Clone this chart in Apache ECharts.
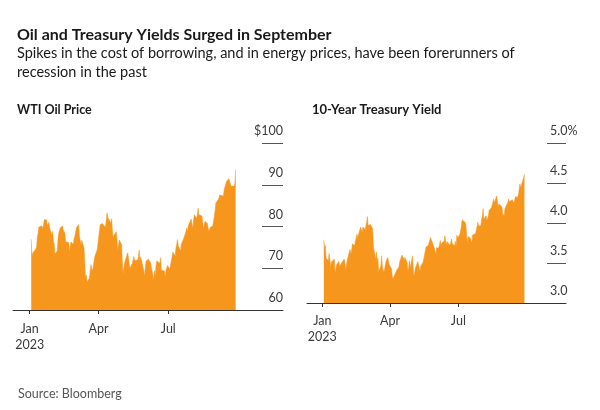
<!DOCTYPE html>
<html><head><meta charset="utf-8">
<script src="https://cdn.jsdelivr.net/npm/echarts@6/dist/echarts.min.js"></script>
<style>html,body{margin:0;padding:0;background:#fff}#c{width:600px;height:410px}</style>
</head><body><div id="c"></div>
<script>
const tradingDays = [
'2023-01-03','2023-01-04','2023-01-05','2023-01-06','2023-01-09','2023-01-10','2023-01-11','2023-01-12','2023-01-13','2023-01-17','2023-01-18','2023-01-19','2023-01-20','2023-01-23','2023-01-24','2023-01-25','2023-01-26','2023-01-27','2023-01-30','2023-01-31',
'2023-02-01','2023-02-02','2023-02-03','2023-02-06','2023-02-07','2023-02-08','2023-02-09','2023-02-10','2023-02-13','2023-02-14','2023-02-15','2023-02-16','2023-02-17','2023-02-21','2023-02-22','2023-02-23','2023-02-24','2023-02-27','2023-02-28',
'2023-03-01','2023-03-02','2023-03-03','2023-03-06','2023-03-07','2023-03-08','2023-03-09','2023-03-10','2023-03-13','2023-03-14','2023-03-15','2023-03-16','2023-03-17','2023-03-20','2023-03-21','2023-03-22','2023-03-23','2023-03-24','2023-03-27','2023-03-28','2023-03-29','2023-03-30','2023-03-31',
'2023-04-03','2023-04-04','2023-04-05','2023-04-06','2023-04-10','2023-04-11','2023-04-12','2023-04-13','2023-04-14','2023-04-17','2023-04-18','2023-04-19','2023-04-20','2023-04-21','2023-04-24','2023-04-25','2023-04-26','2023-04-27','2023-04-28',
'2023-05-01','2023-05-02','2023-05-03','2023-05-04','2023-05-05','2023-05-08','2023-05-09','2023-05-10','2023-05-11','2023-05-12','2023-05-15','2023-05-16','2023-05-17','2023-05-18','2023-05-19','2023-05-22','2023-05-23','2023-05-24','2023-05-25','2023-05-26','2023-05-30','2023-05-31',
'2023-06-01','2023-06-02','2023-06-05','2023-06-06','2023-06-07','2023-06-08','2023-06-09','2023-06-12','2023-06-13','2023-06-14','2023-06-15','2023-06-16','2023-06-20','2023-06-21','2023-06-22','2023-06-23','2023-06-26','2023-06-27','2023-06-28','2023-06-29','2023-06-30',
'2023-07-03','2023-07-05','2023-07-06','2023-07-07','2023-07-10','2023-07-11','2023-07-12','2023-07-13','2023-07-14','2023-07-17','2023-07-18','2023-07-19','2023-07-20','2023-07-21','2023-07-24','2023-07-25','2023-07-26','2023-07-27','2023-07-28','2023-07-31',
'2023-08-01','2023-08-02','2023-08-03','2023-08-04','2023-08-07','2023-08-08','2023-08-09','2023-08-10','2023-08-11','2023-08-14','2023-08-15','2023-08-16','2023-08-17','2023-08-18','2023-08-21','2023-08-22','2023-08-23','2023-08-24','2023-08-25','2023-08-28','2023-08-29','2023-08-30','2023-08-31',
'2023-09-01','2023-09-05','2023-09-06','2023-09-07','2023-09-08','2023-09-11','2023-09-12','2023-09-13','2023-09-14','2023-09-15','2023-09-18','2023-09-19','2023-09-20','2023-09-21','2023-09-22','2023-09-25','2023-09-26','2023-09-27'
];
const oilPrice = [
76.93,72.84,73.67,73.77,74.63,75.12,77.41,78.39,79.86,80.18,79.48,80.33,81.64,81.62,80.13,80.15,81.01,79.68,77.90,78.87,
76.41,75.88,73.39,74.11,77.14,78.47,78.06,79.72,80.14,79.06,78.59,78.49,76.34,76.16,73.95,75.39,76.32,75.68,77.05,
77.69,78.16,79.68,80.46,77.58,76.66,75.72,76.68,74.80,71.33,67.61,68.35,66.74,67.64,69.33,70.90,69.96,69.26,72.81,73.20,72.97,74.37,75.67,
80.42,80.71,80.61,80.70,79.74,81.53,83.26,82.16,82.52,80.83,81.86,79.16,77.37,77.87,78.76,77.07,74.30,74.76,76.78,
75.66,71.66,68.60,68.56,71.34,73.16,73.71,72.56,70.87,70.04,71.11,70.86,72.83,71.86,71.69,71.99,72.91,74.34,71.83,72.67,69.46,68.09,
70.10,71.74,72.15,71.74,72.53,71.29,70.17,67.12,69.42,68.27,70.62,71.78,71.19,72.53,69.51,69.16,69.37,67.70,69.56,69.86,70.64,
69.79,71.79,71.80,73.86,72.99,74.83,75.75,76.89,75.42,74.15,75.75,75.35,75.63,77.07,78.74,79.63,78.78,80.09,80.58,81.80,
81.37,79.49,81.55,82.82,81.94,82.92,84.40,82.82,83.19,82.51,80.99,79.38,80.39,81.25,80.72,79.64,78.89,79.05,79.83,80.10,81.16,81.63,83.63,
85.55,86.69,87.54,87.87,87.51,87.29,88.84,88.52,90.16,90.77,91.48,91.20,90.28,89.63,90.03,89.68,90.39,93.68
];
const treasuryYield = [
3.79,3.69,3.72,3.56,3.53,3.62,3.55,3.44,3.51,3.55,3.37,3.39,3.48,3.52,3.46,3.45,3.49,3.50,3.55,3.52,
3.40,3.39,3.53,3.64,3.67,3.61,3.66,3.74,3.72,3.77,3.81,3.86,3.82,3.95,3.92,3.88,3.95,3.92,3.92,
4.01,4.08,3.97,3.98,3.97,3.99,3.93,3.70,3.55,3.64,3.51,3.56,3.39,3.47,3.59,3.44,3.42,3.38,3.53,3.55,3.57,3.55,3.48,
3.43,3.34,3.30,3.29,3.41,3.43,3.40,3.45,3.52,3.60,3.59,3.60,3.54,3.57,3.50,3.40,3.45,3.53,3.44,
3.59,3.44,3.34,3.39,3.44,3.52,3.52,3.44,3.39,3.46,3.51,3.55,3.57,3.65,3.70,3.72,3.71,3.74,3.82,3.80,3.69,3.64,
3.61,3.69,3.69,3.70,3.78,3.72,3.75,3.77,3.84,3.79,3.72,3.77,3.72,3.72,3.80,3.74,3.72,3.77,3.71,3.85,3.81,
3.86,3.95,4.04,4.06,4.01,3.98,3.86,3.76,3.83,3.81,3.78,3.75,3.85,3.84,3.87,3.89,3.86,4.01,3.96,3.97,
4.05,4.08,4.18,4.05,4.09,4.03,4.01,4.09,4.16,4.19,4.22,4.26,4.30,4.25,4.34,4.33,4.20,4.24,4.24,4.20,4.12,4.12,4.09,
4.18,4.26,4.30,4.27,4.26,4.29,4.27,4.25,4.29,4.33,4.32,4.36,4.35,4.49,4.44,4.54,4.55,4.61
];
const xTickDates = ['2023-01-01','2023-04-01','2023-07-01'];
const xTickLabels = ['Jan\n2023','Apr','Jul'];
const oilTicks = [60, 100, 10];      // min, max, step
const yieldTicks = [3.0, 5.0, 0.5];

const FONT = 'Lato';
const ORANGE = '#F7961D';
const DAY = 864e5;
const EPOCH = Date.UTC(2023,0,1);
// day number counted from 1 Jan 2023
function dayNo(s){const p=s.split('-');return Math.round((Date.UTC(+p[0],+p[1]-1,+p[2])-EPOCH)/DAY);}
const tickDays = xTickDates.map(dayNo);
function xFmt(v){const i=tickDays.indexOf(Math.round(v));return i>=0?xTickLabels[i]:'';}

function xAxisCfg(gi, pre, post, margin){
  return {
    type:'value', gridIndex:gi, min: -pre, max: post,
    axisLine:{show:true, lineStyle:{color:'#333', width:1}},
    axisTick:{show:true, length:4, lineStyle:{color:'#333'}, customValues:tickDays},
    axisLabel:{show:true, customValues:tickDays, formatter:xFmt, margin:margin, color:'#3a3a3a',
      fontFamily:FONT, fontSize:12.5, lineHeight:16},
    splitLine:{show:false}, z:3
  };
}
function yAxisCfg(gi, t, align, margin, fmt){
  return {
    type:'value', gridIndex:gi, position:'right', min:t[0], max:t[1], interval:t[2],
    axisLine:{show:false, onZero:false},
    axisTick:{show:false},
    axisLabel:{inside:false, align:align, margin:margin, verticalAlign:'bottom', padding:[0,0,5,0],
      lineHeight:14, color:'#3a3a3a', fontFamily:FONT, fontSize:12.5, formatter:fmt},
    splitLine:{show:false}
  };
}
// narrow grids on the right of each panel: their y split lines give the short gridline stubs
function stubX(gi){
  return {type:'value', gridIndex:gi, min:0, max:1, show:false,
    axisLine:{show:false}, axisTick:{show:false}, axisLabel:{show:false}, splitLine:{show:false}};
}
function stubY(gi, t){
  return {type:'value', gridIndex:gi, min:t[0], max:t[1], interval:t[2],
    axisLine:{show:false}, axisTick:{show:false}, axisLabel:{show:false},
    splitLine:{show:true, lineStyle:{color:'#555', width:1, type:'solid'}}};
}

const chart = echarts.init(document.getElementById('c'), null, {renderer:'canvas'});
chart.setOption({
  animation:false,
  backgroundColor:'#fff',
  title:[
    {text:'Oil and Treasury Yields Surged in September', left:12, top:20,
      textStyle:{fontFamily:FONT, fontWeight:'bold', fontSize:16, lineHeight:20, color:'#1a1a1a'}},
    {text:'Spikes in the cost of borrowing, and in energy prices, have been forerunners of\nrecession in the past', left:12, top:39,
      textStyle:{fontFamily:FONT, fontWeight:'normal', fontSize:14.5, lineHeight:19, color:'#1a1a1a'}},
    {text:'WTI Oil Price', left:12, top:97,
      textStyle:{fontFamily:FONT, fontWeight:'bold', fontSize:12.5, lineHeight:16, color:'#1a1a1a'}},
    {text:'10-Year Treasury Yield', left:307, top:97,
      textStyle:{fontFamily:FONT, fontWeight:'bold', fontSize:13, lineHeight:16, color:'#1a1a1a'}},
    {text:'Source: Bloomberg', left:13, top:381,
      textStyle:{fontFamily:FONT, fontWeight:'normal', fontSize:12.5, lineHeight:16, color:'#555'}}
  ],
  grid:[
    {left:13, width:270, top:143, height:167},
    {left:307, width:259, top:143, height:160},
    {left:262, width:21, top:143, height:167},
    {left:547, width:19, top:143, height:160}
  ],
  xAxis:[ xAxisCfg(0, 21.8, 330.8, 11), xAxisCfg(1, 20.4, 324.3, 10), stubX(2), stubX(3) ],
  yAxis:[
    yAxisCfg(0, oilTicks, 'right', 0, v => v===100 ? '$100' : String(v)),
    yAxisCfg(1, yieldTicks, 'left', -16, v => v===5 ? '5.0%' : v.toFixed(1)),
    stubY(2, oilTicks),
    stubY(3, yieldTicks)
  ],
  series:[
    {type:'line', xAxisIndex:0, yAxisIndex:0, data: tradingDays.map((d,i)=>[dayNo(d), oilPrice[i]]),
      showSymbol:false, lineStyle:{width:0.5, color:ORANGE}, areaStyle:{color:ORANGE, opacity:1, origin:'start'}, z:1},
    {type:'line', xAxisIndex:1, yAxisIndex:1, data: tradingDays.map((d,i)=>[dayNo(d), treasuryYield[i]]),
      showSymbol:false, lineStyle:{width:0.5, color:ORANGE}, areaStyle:{color:ORANGE, opacity:1, origin:'start'}, z:1}
  ]
});
</script>
</body></html>
